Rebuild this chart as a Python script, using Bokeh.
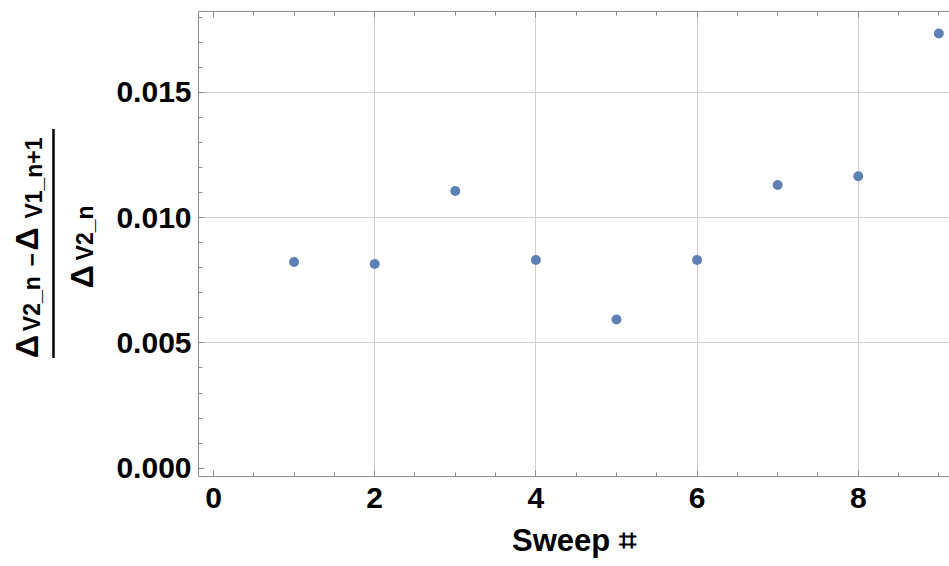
from bokeh.plotting import figure
from bokeh.layouts import row
from bokeh.models import (Range1d, SingleIntervalTicker, FixedTicker, PrintfTickFormatter,
                          LinearAxis, CustomLabelingPolicy)
from bokeh.core.properties import value
from bokeh.embed import file_html
from bokeh.resources import INLINE
import math

sweep = [1, 2, 3, 4, 5, 6, 7, 8, 9]
ratio = [0.00823, 0.00815, 0.01106, 0.00831, 0.00593, 0.00831, 0.0113, 0.01165, 0.01734]
x_grid = [2, 4, 6, 8]
y_grid = [0.005, 0.010, 0.015]

FONT = "Liberation Sans"
AX = "#8c8c8c"

# label panel (fraction); its frame is aligned with the main frame (page y 9..476)
lab = figure(width=108, height=566, x_range=Range1d(0, 108), y_range=Range1d(0, 467),
             output_backend="svg", toolbar_location=None, min_border=0)
lab.axis.visible = False
lab.grid.visible = False
lab.outline_line_color = None

def piece(x, y, txt, size):
    lab.text(x=[x], y=[y], text=[txt], angle=math.pi/2, text_align="left",
             text_baseline="middle", text_font=value(FONT), text_font_style="bold",
             text_font_size=size, text_color="black")

# numerator
piece(26, 119, "\u0394", "32px")
piece(31, 146, "V2_n", "23px")
piece(31, 211, "\u2212", "23px")
piece(26, 227, "\u0394", "32px")
piece(33, 259, "V1_n+1", "23px")
# denominator
piece(81, 189, "\u0394", "32px")
piece(84, 217, "V2_n", "23px")
lab.segment(x0=[53], y0=[119], x1=[53], y1=[349], line_color="black", line_width=2.5)

p = figure(width=841, height=566, output_backend="svg", toolbar_location=None,
           x_range=Range1d(-0.186, 9.132), y_range=Range1d(-0.00033, 0.01822),
           min_border_left=90, min_border_right=0, min_border_top=9, min_border_bottom=90)
p.outline_line_color = None
p.scatter(sweep, ratio, size=10, color="#5E81B5", line_color=None)

p.xaxis.ticker = SingleIntervalTicker(interval=2, num_minor_ticks=4)
p.yaxis.ticker = SingleIntervalTicker(interval=0.005, num_minor_ticks=5)
p.yaxis.formatter = PrintfTickFormatter(format="%.3f")
p.xgrid.ticker = FixedTicker(ticks=x_grid)
p.ygrid.ticker = FixedTicker(ticks=y_grid)
p.grid.grid_line_color = "#cfcfcf"
p.grid.grid_line_width = 1

p.xaxis.axis_label = "Sweep \u2317"
p.xaxis.axis_label_text_font = FONT
p.xaxis.axis_label_text_font_style = "bold"
p.xaxis.axis_label_text_font_size = "31px"
p.xaxis.axis_label_text_color = "black"
p.xaxis.axis_label_standoff = 12

for ax in [p.xaxis[0], p.yaxis[0]]:
    ax.major_label_text_font = FONT
    ax.major_label_text_font_style = "bold"
    ax.major_label_text_font_size = "30px"
    ax.major_label_text_color = "black"
    ax.axis_line_color = AX
    ax.major_tick_line_color = AX
    ax.minor_tick_line_color = AX
    ax.major_tick_in = 6
    ax.major_tick_out = 0
    ax.minor_tick_in = 4
    ax.minor_tick_out = 0
p.xaxis.major_label_standoff = 11
p.yaxis.major_label_standoff = 7

top = LinearAxis(ticker=SingleIntervalTicker(interval=2, num_minor_ticks=4),
                 major_label_policy=CustomLabelingPolicy(
                     code="for (const i of Array.from(indices)) { indices.unset(i) } return indices"),
                 major_label_standoff=0,
                 axis_line_color=AX, major_tick_line_color=AX, minor_tick_line_color=AX,
                 major_tick_in=6, major_tick_out=0, minor_tick_in=4, minor_tick_out=0)
p.add_layout(top, "above")

layout = row(lab, p, spacing=0)
open("out.html", "w").write(file_html(layout, INLINE))
